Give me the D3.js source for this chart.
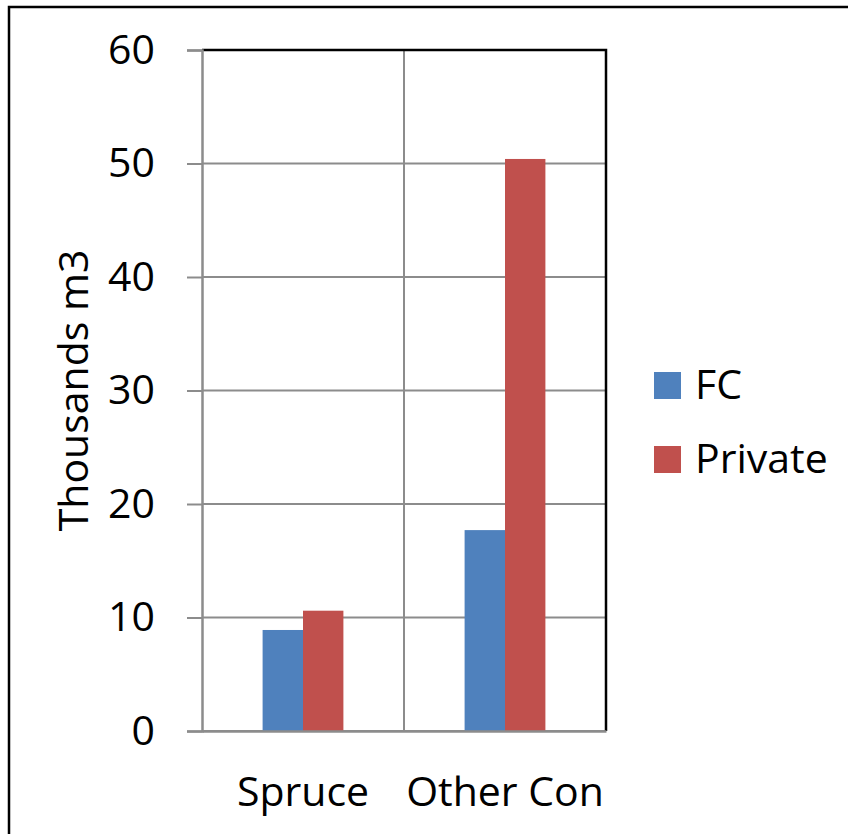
<!DOCTYPE html>
<html>
<head>
<meta charset="utf-8">
<script src="https://cdn.jsdelivr.net/npm/d3@7"></script>
<style>
  html, body { margin: 0; padding: 0; background: #fff; }
  svg { display: block; }
  text { font-family: "Open Sans", "Noto Sans", sans-serif; fill: #000; }
</style>
</head>
<body>
<svg id="chart" width="848" height="834"></svg>
<script>
const categories = ["Spruce", "Other Con"];
const seriesNames = ["FC", "Private"];
const fcValues = [8.9, 17.7];
const privateValues = [10.6, 50.4];
const yTicks = [0, 10, 20, 30, 40, 50, 60];
const colors = ["#4F81BD", "#C0504D"];

const svg = d3.select("#chart");
const W = 848, H = 834;
const plot = { left: 202, right: 606, top: 50, bottom: 731 };
const fontSize = 41;

// outer frame (only top and left edges fall inside the page)
svg.append("rect")
  .attr("x", 9).attr("y", 7)
  .attr("width", W + 20).attr("height", H + 20)
  .attr("fill", "none").attr("stroke", "#000").attr("stroke-width", 2.5);

const x = d3.scaleBand().domain(categories).range([plot.left, plot.right]);
const inner = d3.scaleBand().domain(seriesNames)
  .range([0, x.bandwidth()]).paddingOuter(1.5).paddingInner(0);
const y = d3.scaleLinear().domain([0, 60]).range([plot.bottom, plot.top]);

const grid = "#8c8c8c";

// horizontal gridlines
svg.append("g").selectAll("line").data(yTicks).join("line")
  .attr("x1", plot.left).attr("x2", plot.right)
  .attr("y1", d => y(d)).attr("y2", d => y(d))
  .attr("stroke", grid).attr("stroke-width", 2);

// vertical gridlines between categories
svg.append("g").selectAll("line").data(categories.slice(1)).join("line")
  .attr("x1", d => x(d)).attr("x2", d => x(d))
  .attr("y1", plot.top).attr("y2", plot.bottom)
  .attr("stroke", grid).attr("stroke-width", 2);

// bars
const rows = categories.map((c, i) => ({ cat: c, vals: [fcValues[i], privateValues[i]] }));
svg.append("g").selectAll("g").data(rows).join("g")
  .attr("transform", d => `translate(${x(d.cat)},0)`)
  .selectAll("rect").data(d => d.vals.map((v, j) => ({ name: seriesNames[j], v, j })))
  .join("rect")
  .attr("x", d => inner(d.name))
  .attr("width", inner.bandwidth())
  .attr("y", d => y(d.v))
  .attr("height", d => y(0) - y(d.v))
  .attr("fill", d => colors[d.j]);

// plot frame: dark top and right edges
svg.append("path")
  .attr("d", `M${plot.left},${plot.top}H${plot.right}V${plot.bottom}`)
  .attr("fill", "none").attr("stroke", "#000").attr("stroke-width", 2.5);

// y axis
const yAxis = svg.append("g").attr("transform", `translate(${plot.left},0)`)
  .call(d3.axisLeft(y).tickValues(yTicks).tickSize(15).tickPadding(32));
yAxis.select(".domain").attr("stroke", grid).attr("stroke-width", 2.5);
yAxis.selectAll(".tick line").attr("stroke", grid).attr("stroke-width", 2);
yAxis.selectAll("text").attr("font-size", fontSize).attr("font-family", "Open Sans").attr("fill", "#000");

// x axis
const xAxis = svg.append("g").attr("transform", `translate(0,${plot.bottom})`)
  .call(d3.axisBottom(x).tickSize(0).tickPadding(46));
xAxis.select(".domain").attr("stroke", grid).attr("stroke-width", 2.5);
xAxis.selectAll("text").attr("font-size", fontSize).attr("font-family", "Open Sans").attr("fill", "#000");

// y axis title
svg.append("text")
  .attr("transform", `translate(88,${(plot.top + plot.bottom) / 2}) rotate(-90)`)
  .attr("text-anchor", "middle")
  .attr("font-size", fontSize)
  .text("Thousands m3");

// legend
const legend = svg.append("g").selectAll("g").data(seriesNames).join("g")
  .attr("transform", (d, i) => `translate(654,${372 + i * 74})`);
legend.append("rect").attr("width", 27).attr("height", 27)
  .attr("fill", (d, i) => colors[i]);
legend.append("text").attr("x", 41).attr("y", 27)
  .attr("font-size", fontSize).text(d => d);
</script>
</body>
</html>
